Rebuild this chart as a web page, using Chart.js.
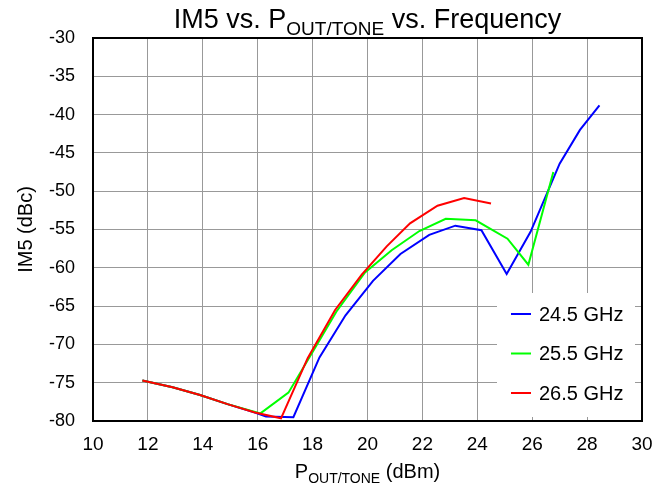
<!DOCTYPE html>
<html>
<head>
<meta charset="utf-8">
<script src="https://cdn.jsdelivr.net/npm/chart.js@4"></script>
<style>
  html, body { margin: 0; padding: 0; background: #fff; }
  #wrap { width: 667px; height: 488px; }
</style>
</head>
<body>
<div id="wrap"><canvas id="im5"></canvas></div>
<script>
// values
const seriesLabels = ['24.5 GHz', '25.5 GHz', '26.5 GHz'];
const seriesColors = ['#0000ff', '#00ff00', '#ff0000'];

const pout245 = [11.8, 12.9, 13.9, 14.9, 15.9, 16.3, 17.3, 18.25, 19.2, 20.2, 21.2, 22.25, 23.2, 24.15, 25.07, 25.94, 27.0, 27.74, 28.45];
const im5_245 = [-74.7, -75.6, -76.6, -77.8, -78.9, -79.4, -79.5, -71.7, -66.2, -61.7, -58.2, -55.7, -54.5, -55.1, -60.8, -55.3, -46.4, -42.0, -38.8];

const pout255 = [11.8, 12.9, 13.9, 14.9, 16.1, 17.12, 18.0, 18.87, 19.91, 20.88, 21.89, 22.85, 23.94, 25.1, 25.86, 26.77];
const im5_255 = [-74.7, -75.6, -76.6, -77.8, -79.0, -76.3, -71.0, -65.7, -60.6, -57.7, -55.2, -53.6, -53.8, -56.2, -59.6, -47.5];

const pout265 = [11.8, 12.9, 13.9, 14.9, 15.9, 16.85, 17.82, 18.82, 19.79, 20.7, 21.55, 22.55, 23.52, 24.5];
const im5_265 = [-74.7, -75.6, -76.6, -77.8, -78.9, -79.65, -71.8, -65.5, -60.9, -57.2, -54.2, -51.9, -50.9, -51.6];

const xTicks = [10, 12, 14, 16, 18, 20, 22, 24, 26, 28, 30];
const yTicks = [-30, -35, -40, -45, -50, -55, -60, -65, -70, -75, -80];

const FONT = '"Liberation Sans", Arial, Helvetica, sans-serif';

function toPoints(xs, ys) {
    return xs.map((x, i) => ({ x: x, y: ys[i] }));
}

// text with a subscript part: [normal, sub, normal]
function drawSubText(ctx, parts, cx, y, size) {
    const subSize = Math.round(size * 0.7);
    ctx.save();
    ctx.fillStyle = '#000';
    ctx.textBaseline = 'alphabetic';
    const widths = parts.map((p, i) => {
        ctx.font = (i % 2 ? subSize : size) + 'px ' + FONT;
        return ctx.measureText(p).width;
    });
    const total = widths.reduce((a, b) => a + b, 0);
    let x = cx - total / 2;
    parts.forEach((p, i) => {
        ctx.font = (i % 2 ? subSize : size) + 'px ' + FONT;
        ctx.textAlign = 'left';
        ctx.fillText(p, x, y + (i % 2 ? size * 0.25 : 0));
        x += widths[i];
    });
    ctx.restore();
}

const decorPlugin = {
    id: 'decor',
    afterDraw(chart) {
        const ctx = chart.ctx;
        const a = chart.chartArea;

        // frame
        ctx.save();
        ctx.strokeStyle = '#000';
        ctx.lineWidth = 2;
        ctx.strokeRect(a.left, a.top, a.right - a.left, a.bottom - a.top);
        ctx.restore();

        // legend inside plot
        const lx = a.right - 145, ly = a.bottom - 128, lw = 138, lh = 124;
        ctx.save();
        ctx.fillStyle = '#fff';
        ctx.fillRect(lx, ly, lw, lh);
        chart.data.datasets.forEach((ds, i) => {
            const y = ly + 21 + i * 39.5;
            ctx.strokeStyle = ds.borderColor;
            ctx.lineWidth = 2;
            ctx.beginPath();
            ctx.moveTo(lx + 14, y);
            ctx.lineTo(lx + 34, y);
            ctx.stroke();
            ctx.fillStyle = '#000';
            ctx.font = '20px ' + FONT;
            ctx.textAlign = 'left';
            ctx.textBaseline = 'middle';
            ctx.fillText(ds.label, lx + 42, y + 1);
        });
        ctx.restore();

        // titles
        const cx = (a.left + a.right) / 2;
        drawSubText(ctx, ['IM5 vs. P', 'OUT/TONE', ' vs. Frequency'], cx, 28, 27);
        drawSubText(ctx, ['P', 'OUT/TONE', ' (dBm)'], cx, 478, 20);

        ctx.save();
        ctx.translate(25, (a.top + a.bottom) / 2);
        ctx.rotate(-Math.PI / 2);
        ctx.fillStyle = '#000';
        ctx.font = '20px ' + FONT;
        ctx.textAlign = 'center';
        ctx.textBaseline = 'alphabetic';
        ctx.fillText('IM5 (dBc)', 0, 7);
        ctx.restore();
    }
};

new Chart(document.getElementById('im5'), {
    type: 'line',
    data: {
        datasets: [
            { label: seriesLabels[0], data: toPoints(pout245, im5_245), borderColor: seriesColors[0], order: 3 },
            { label: seriesLabels[1], data: toPoints(pout255, im5_255), borderColor: seriesColors[1], order: 2 },
            { label: seriesLabels[2], data: toPoints(pout265, im5_265), borderColor: seriesColors[2], order: 1 }
        ].map(d => Object.assign(d, { borderWidth: 2, pointRadius: 0, fill: false, tension: 0 }))
    },
    options: {
        responsive: true,
        maintainAspectRatio: false,
        animation: false,
        layout: { padding: { top: 38, right: 25, left: 0, bottom: 0 } },
        plugins: { legend: { display: false }, tooltip: { enabled: false } },
        scales: {
            x: {
                type: 'linear',
                min: 10, max: 30,
                afterBuildTicks: s => { s.ticks = xTicks.map(v => ({ value: v })); },
                afterFit: s => { s.height = 67; },
                grid: { color: '#999', lineWidth: 1, drawTicks: false },
                border: { display: false },
                ticks: { color: '#000', font: { family: FONT, size: 19 }, padding: 12, maxRotation: 0 }
            },
            y: {
                min: -80, max: -30,
                afterBuildTicks: s => { s.ticks = yTicks.map(v => ({ value: v })); },
                afterFit: s => { s.width = 93; },
                grid: { color: '#999', lineWidth: 1, drawTicks: false },
                border: { display: false },
                ticks: { color: '#000', font: { family: FONT, size: 18 }, padding: 18 }
            }
        }
    },
    plugins: [decorPlugin]
});
</script>
</body>
</html>
